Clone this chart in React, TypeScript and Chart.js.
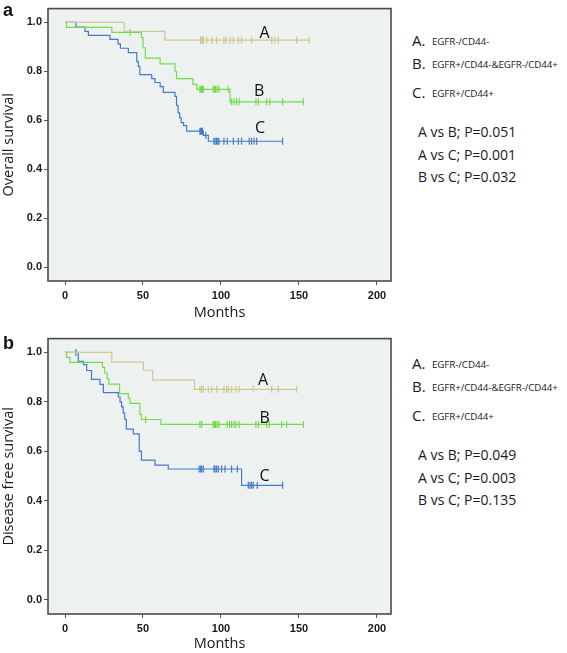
import React, { useEffect, useRef } from 'react';
import { Chart, registerables } from 'chart.js';
Chart.register(...registerables);

const xTicks = [0, 50, 100, 150, 200];
const yTicks = [0, 0.2, 0.4, 0.6, 0.8, 1.0];
const groupNames = ['A', 'B', 'C'];
const groupLabels = ['EGFR-/CD44-', 'EGFR+/CD44-&EGFR-/CD44+', 'EGFR+/CD44+'];

// Panel a: overall survival
const osA_t = [0, 38, 64];
const osA_s = [1.0, 0.963, 0.927];
const osA_c = [87, 87.6, 88, 88.7, 90.8, 94, 97.2, 101.9, 103.2, 105.8, 107.9, 111.1, 113.2, 119.6, 132.5, 134.6, 136.8, 148.5, 156.6];
const osB_t = [0, 1, 30, 49, 50, 51.5, 61, 70.5, 71.5, 82, 84.5, 105.8];
const osB_s = [1.0, 0.979, 0.959, 0.938, 0.896, 0.854, 0.83, 0.8, 0.77, 0.746, 0.726, 0.675];
const osB_c = [41.7, 86.5, 87, 87.6, 88.2, 88.7, 95, 95.8, 96.5, 97.5, 98.7, 104.7, 106.8, 108.3, 110, 111.7, 122.4, 124, 129.3, 131.4, 139.5, 152.8];
const osC_t = [0, 7, 12.8, 15, 28.8, 34, 35.5, 40.6, 46, 47, 48, 55.6, 57.7, 61, 63, 70.5, 71.5, 72.5, 73.5, 74.5, 76, 78, 88.7, 91.9];
const osC_s = [1.0, 0.98, 0.963, 0.947, 0.93, 0.912, 0.894, 0.876, 0.84, 0.82, 0.786, 0.77, 0.754, 0.737, 0.714, 0.697, 0.66, 0.63, 0.61, 0.59, 0.578, 0.555, 0.538, 0.514];
const osC_c = [86.5, 87, 87.6, 88.2, 90.3, 95.5, 96.2, 97.2, 98, 98.7, 101.9, 104, 107.9, 111.1, 113.2, 118.1, 119.6, 121.2, 122.9, 139.5];
const osP = ['A vs B; P=0.051', 'A vs C; P=0.001', 'B vs C; P=0.032'];
const osTextPos = [[128, 0.955], [124.5, 0.716], [125, 0.565]];

// Panel b: disease free survival
const dfsA_t = [0, 30, 50.2, 56.2, 83];
const dfsA_s = [1.0, 0.961, 0.928, 0.888, 0.851];
const dfsA_c = [86.5, 87.6, 88.7, 91.9, 94, 97.2, 101.9, 103.6, 104.7, 106.8, 109.6, 111.7, 120.7, 132.5, 136.8, 148.5];
const dfsB_t = [0, 1, 3.2, 24, 25.5, 27, 28, 35, 40.6, 41.7, 48, 49, 61.5];
const dfsB_s = [1.0, 0.98, 0.96, 0.94, 0.917, 0.894, 0.872, 0.834, 0.814, 0.794, 0.75, 0.729, 0.709];
const dfsB_c = [51.7, 86.5, 87.6, 95, 95.8, 96.5, 97.5, 98.7, 104, 105.5, 106.8, 108.3, 109.6, 111.7, 122.4, 124, 129.3, 131, 138.9, 142.1, 152.8];
const dfsC_t = [0, 8.5, 11.8, 13.9, 17, 22.4, 24.6, 34.2, 35.3, 36.3, 37.3, 38.3, 39.3, 43.8, 47.6, 49, 57.7, 66.2, 113.2];
const dfsC_s = [1.0, 0.964, 0.951, 0.927, 0.891, 0.871, 0.838, 0.82, 0.8, 0.78, 0.755, 0.73, 0.69, 0.671, 0.6, 0.565, 0.545, 0.529, 0.463];
const dfsC_c = [7, 86, 87, 87.6, 88.7, 95.5, 96.2, 97.2, 98.3, 100.4, 102.6, 106.8, 110.5, 117.5, 118.6, 119.6, 120.7, 123.3, 139.5];
const dfsP = ['A vs B; P=0.049', 'A vs C; P=0.003', 'B vs C; P=0.135'];
const dfsTextPos = [[127, 0.887], [128, 0.734], [128, 0.498]];

const COLORS = ['#cfc88f', '#74dc4c', '#4479cc'];
const FONT = "'Open Sans', 'Noto Sans', sans-serif";
const TICK_FONT = "'Liberation Sans', Arial, sans-serif";

type Group = { t: number[]; s: number[]; c: number[] };

function survAt(t: number, g: Group) {
  let v = g.s[0];
  for (let i = 0; i < g.t.length; i++) if (g.t[i] <= t) v = g.s[i];
  return v;
}

function curve(g: Group) {
  const end = Math.max(g.t[g.t.length - 1], ...g.c);
  const pts = g.t.map((t, i) => ({ x: t, y: g.s[i] }));
  pts.push({ x: end, y: g.s[g.s.length - 1] });
  return pts;
}

type PanelProps = {
  top: number;
  height: number;
  padTop: number;
  xAxisH: number;
  titleBottom: number;
  yTitle: string;
  groups: Group[];
  textPos: number[][];
};

function Panel(p: PanelProps) {
  const ref = useRef<HTMLCanvasElement>(null);
  useEffect(() => {
    const framePlugin = {
      id: 'frame',
      beforeDraw(chart: any) {
        const { ctx, chartArea: a } = chart;
        ctx.save();
        ctx.fillStyle = '#edf2f0';
        ctx.fillRect(a.left, a.top, a.right - a.left, a.bottom - a.top);
        ctx.restore();
      },
      afterDraw(chart: any) {
        const { ctx, chartArea: a, scales } = chart;
        ctx.save();
        ctx.strokeStyle = '#4a4a4a';
        ctx.lineWidth = 1.6;
        ctx.strokeRect(a.left, a.top, a.right - a.left, a.bottom - a.top);
        ctx.fillStyle = '#111';
        ctx.font = `16px ${FONT}`;
        ctx.textAlign = 'center';
        ctx.textBaseline = 'middle';
        p.textPos.forEach((tp, i) => {
          ctx.fillText(groupNames[i], scales.x.getPixelForValue(tp[0]), scales.y.getPixelForValue(tp[1]));
        });
        ctx.restore();
      },
    };
    const datasets: any[] = [];
    p.groups.forEach((g, i) => {
      datasets.push({
        data: curve(g),
        borderColor: COLORS[i],
        borderWidth: 1.2,
        pointRadius: 0,
        stepped: true,
        fill: false,
      });
    });
    p.groups.forEach((g, i) => {
      datasets.push({
        data: g.c.map((t) => ({ x: t, y: survAt(t, g) })),
        showLine: false,
        pointStyle: 'line',
        rotation: 90,
        pointRadius: 3.5,
        borderColor: COLORS[i],
        backgroundColor: COLORS[i],
        borderWidth: 1.2,
      });
    });
    const chart = new Chart(ref.current as HTMLCanvasElement, {
      type: 'line',
      data: { datasets },
      options: {
        animation: false,
        responsive: false,
        devicePixelRatio: 1,
        layout: { padding: { top: p.padTop, right: 9, left: 0, bottom: 0 } },
        plugins: { legend: { display: false }, tooltip: { enabled: false } },
        scales: {
          x: {
            type: 'linear',
            min: -10.9,
            max: 209,
            afterBuildTicks: (s: any) => {
              s.ticks = xTicks.map((v) => ({ value: v }));
            },
            afterFit: (s: any) => {
              s.height = p.xAxisH;
            },
            grid: { drawOnChartArea: false, drawTicks: true, tickLength: 4, color: '#555', tickColor: '#555' },
            border: { display: false },
            ticks: {
              font: { family: TICK_FONT, weight: 'bold', size: 11 },
              color: '#1a1a1a',
              padding: 4,
              maxRotation: 0,
              autoSkip: false,
            },
            title: {
              display: true,
              text: 'Months',
              font: { family: FONT, size: 14.5 },
              color: '#1a1a1a',
              padding: { top: 0, bottom: p.titleBottom },
            },
          },
          y: {
            type: 'linear',
            min: -0.057,
            max: 1.056,
            afterBuildTicks: (s: any) => {
              s.ticks = yTicks.map((v) => ({ value: v }));
            },
            afterFit: (s: any) => {
              s.width = 48;
            },
            grid: { drawOnChartArea: false, drawTicks: true, tickLength: 4, color: '#555', tickColor: '#555' },
            border: { display: false },
            ticks: {
              font: { family: TICK_FONT, weight: 'bold', size: 11 },
              color: '#1a1a1a',
              padding: 2,
              callback: (v: any) => Number(v).toFixed(1),
            },
            title: {
              display: true,
              text: p.yTitle,
              font: { family: FONT, size: 14.5 },
              color: '#1a1a1a',
              padding: { top: 0, bottom: 0 },
            },
          },
        },
      } as any,
      plugins: [framePlugin],
    });
    return () => chart.destroy();
  }, []);
  return (
    <canvas
      ref={ref}
      width={400}
      height={p.height}
      style={{ position: 'absolute', left: 0, top: p.top, width: 400, height: p.height, display: 'block' }}
    />
  );
}

function Legend({ top, pvals }: { top: number; pvals: string[] }) {
  const rows = [0, 23, 52];
  const pRows = [92, 115, 137];
  return (
    <>
      {groupNames.map((n, i) => (
        <React.Fragment key={n}>
          <div style={{ position: 'absolute', left: 412, top: top + rows[i] - 10, height: 20, lineHeight: '20px', fontSize: 15, fontFamily: FONT, color: '#1a1a1a', whiteSpace: 'nowrap' }}>
            {n}.
          </div>
          <div style={{ position: 'absolute', left: 432, top: top + rows[i] - 8.5, height: 20, lineHeight: '20px', fontSize: 9.8, letterSpacing: '-0.1px', fontFamily: FONT, color: '#1a1a1a', whiteSpace: 'nowrap' }}>
            {groupLabels[i]}
          </div>
        </React.Fragment>
      ))}
      {pvals.map((t, i) => (
        <div key={t} style={{ position: 'absolute', left: 418, top: top + pRows[i] - 10, height: 20, lineHeight: '20px', fontSize: 14, fontFamily: FONT, color: '#1a1a1a', whiteSpace: 'nowrap' }}>
          {t}
        </div>
      ))}
    </>
  );
}

export default function App() {
  const osGroups: Group[] = [
    { t: osA_t, s: osA_s, c: osA_c },
    { t: osB_t, s: osB_s, c: osB_c },
    { t: osC_t, s: osC_s, c: osC_c },
  ];
  const dfsGroups: Group[] = [
    { t: dfsA_t, s: dfsA_s, c: dfsA_c },
    { t: dfsB_t, s: dfsB_s, c: dfsB_c },
    { t: dfsC_t, s: dfsC_s, c: dfsC_c },
  ];
  return (
    <div style={{ position: 'absolute', left: 0, top: 0, width: 567, height: 653, background: '#fff', overflow: 'hidden' }}>
      <Panel top={0} height={325} padTop={2} xAxisH={44} titleBottom={3.6} yTitle="Overall survival" groups={osGroups} textPos={osTextPos} />
      <Panel top={330} height={323} padTop={4} xAxisH={39} titleBottom={0} yTitle="Disease free survival" groups={dfsGroups} textPos={dfsTextPos} />
      <div style={{ position: 'absolute', left: 3, top: 0, fontSize: 18, lineHeight: '20px', fontWeight: 'bold', fontFamily: TICK_FONT, color: '#111' }}>a</div>
      <div style={{ position: 'absolute', left: 3, top: 333, fontSize: 18, lineHeight: '20px', fontWeight: 'bold', fontFamily: TICK_FONT, color: '#111' }}>b</div>
      <Legend top={40} pvals={osP} />
      <Legend top={363} pvals={dfsP} />
    </div>
  );
}
